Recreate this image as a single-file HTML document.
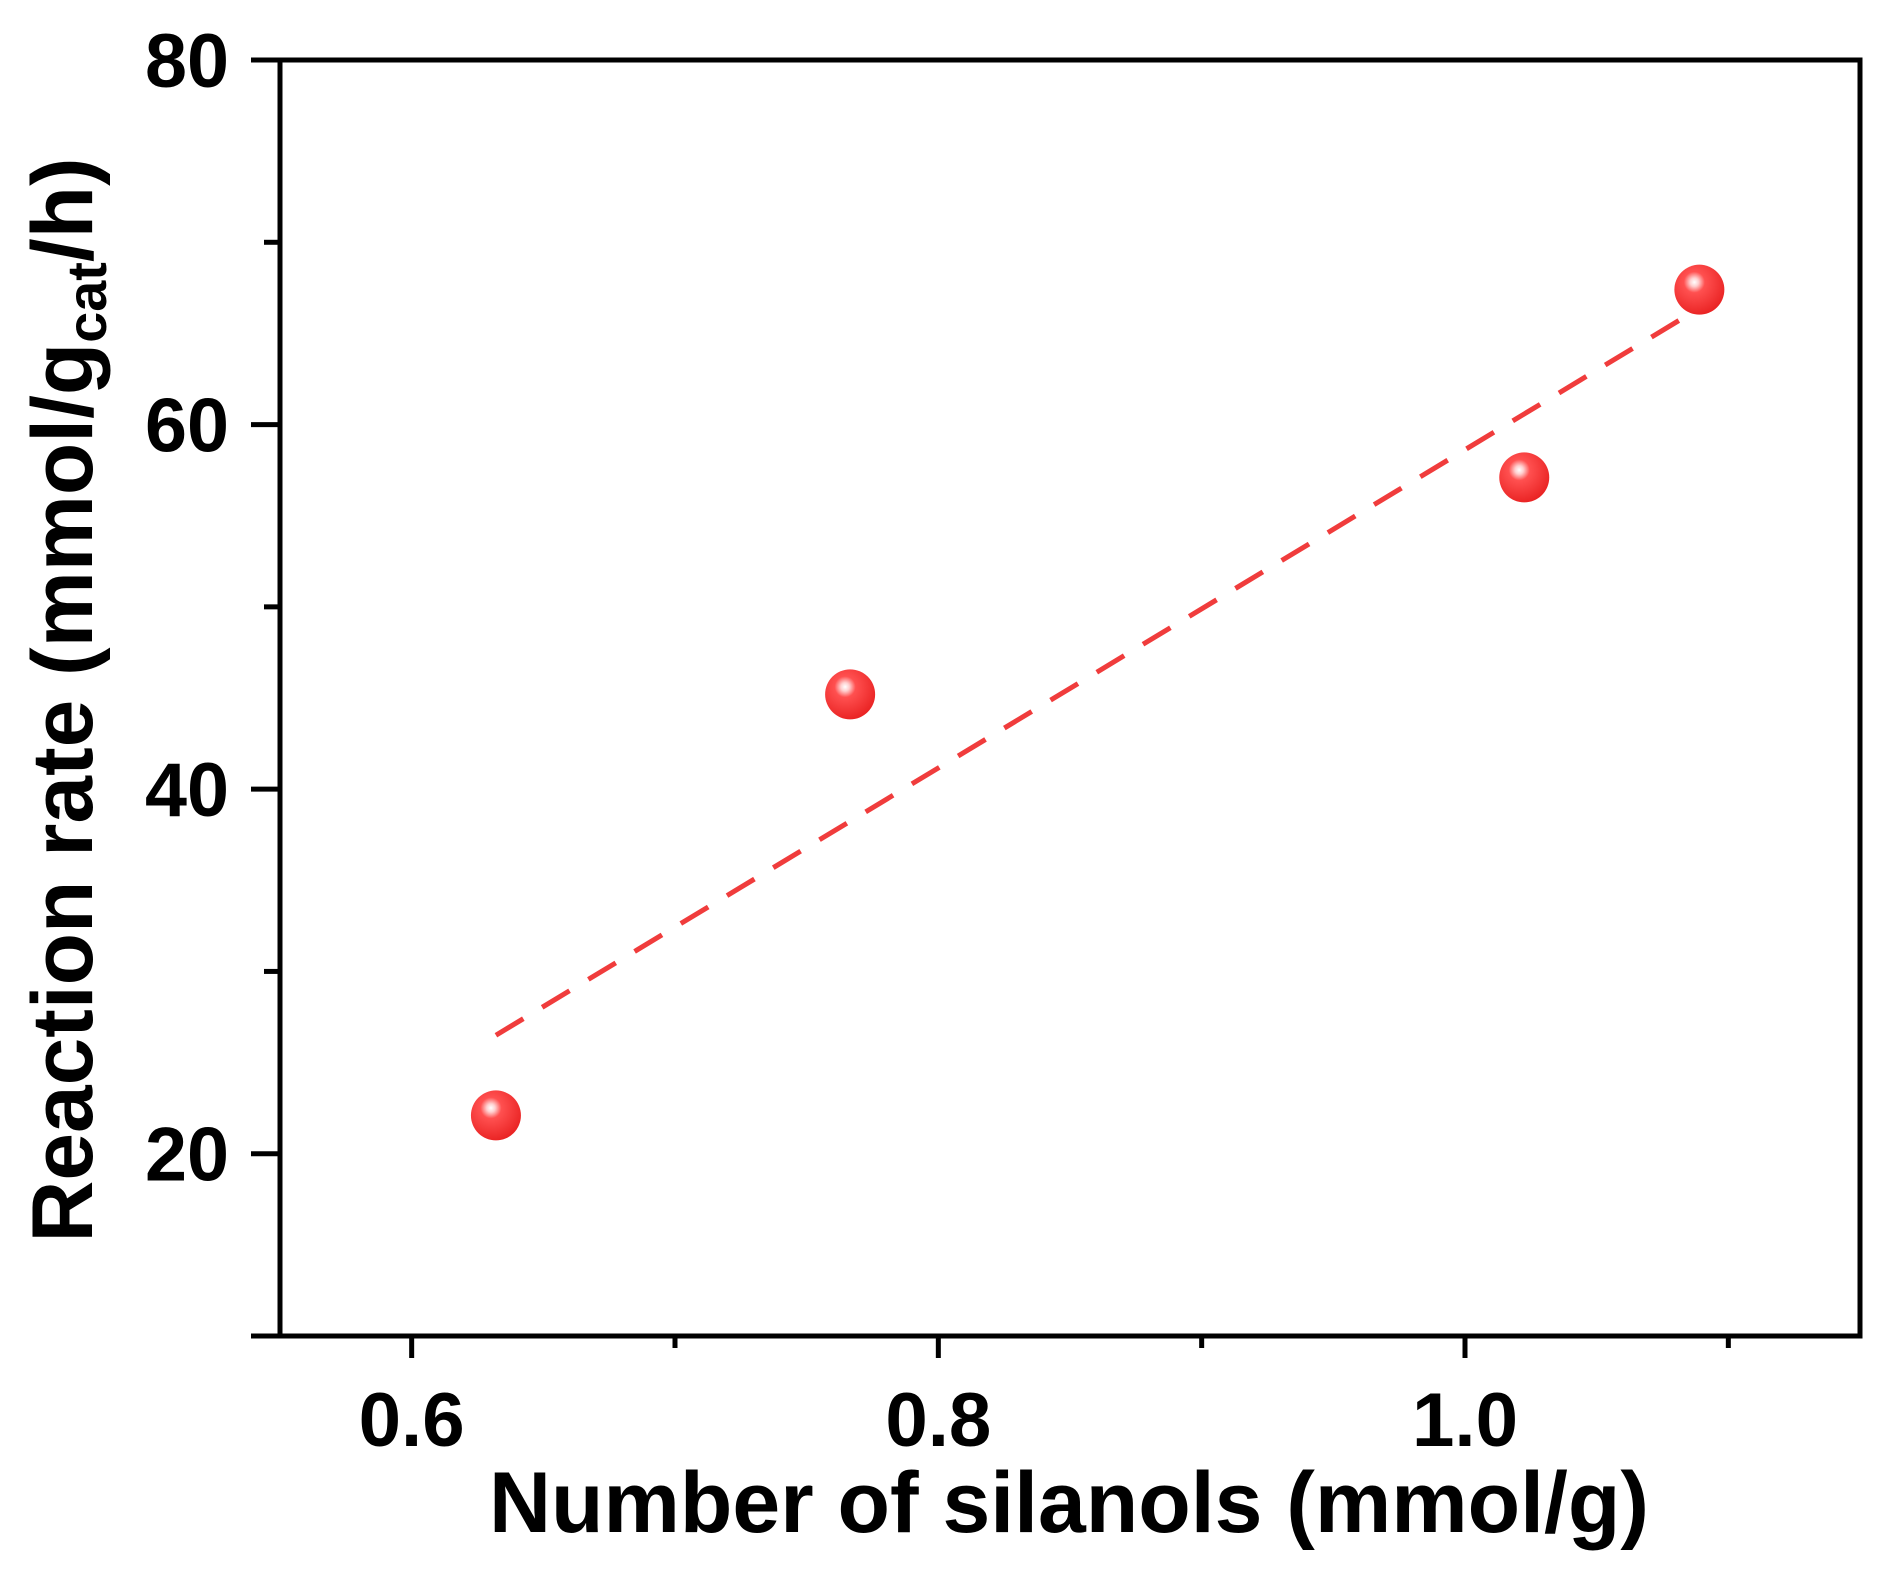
<!DOCTYPE html>
<html><head><meta charset="utf-8"><style>html,body{margin:0;padding:0;background:#fff}svg{display:block}</style></head>
<body>
<svg id="chart" width="1893" height="1588" viewBox="0 0 1893 1588" xmlns="http://www.w3.org/2000/svg" font-family="'Liberation Sans', sans-serif" font-weight="bold">
<defs>
<radialGradient id="ball" cx="0.4" cy="0.35" r="0.7">
<stop offset="0" stop-color="#fff"/><stop offset="0.12" stop-color="#ffd0d0"/><stop offset="0.3" stop-color="#ff5050"/><stop offset="1" stop-color="#e82020"/>
</radialGradient>
</defs>
<g id="layer"></g>
</svg>
<script>
const xs = [0.632, 0.7665, 1.0225, 1.089];
const ys = [22.1, 45.2, 57.1, 67.4];
const fitX = [0.632, 1.088];
const fitY = [26.5, 66.3];
const xTicks = [0.6, 0.8, 1.0];
const xTickLabels = ["0.6", "0.8", "1.0"];
const xMinor = [0.7, 0.9, 1.1];
const yTicks = [20, 40, 60, 80];
const yTickLabels = ["20", "40", "60", "80"];
const yMinor = [30, 50, 70];

const L=280, R=1860, T=60, B=1336;
const X = v => L + (v-0.55)/(1.15-0.55)*(R-L);
const Y = v => B - (v-10)/(80-10)*(B-T);
const NS="http://www.w3.org/2000/svg";
const g=document.getElementById('layer');
function mk(tag, attrs){const e=document.createElementNS(NS,tag);for(const k in attrs)e.setAttribute(k,attrs[k]);g.appendChild(e);return e;}

const frame=mk('rect',{x:L,y:T,width:R-L,height:B-T,fill:'none',stroke:'#000','stroke-width':5});



yTicks.forEach((v,i)=>{
  const t=mk('line',{x1:L-29,x2:L,y1:Y(v),y2:Y(v),stroke:'#000','stroke-width':5});
  
  
  const lb=mk('text',{x:229,y:Y(v)+27,'text-anchor':'end','font-size':76,transform:'',textLength:84,lengthAdjust:'spacingAndGlyphs'});
  lb.textContent=yTickLabels[i];
  
  
});
yMinor.forEach(v=>{
  const t=mk('line',{x1:L-16,x2:L,y1:Y(v),y2:Y(v),stroke:'#000','stroke-width':5});
  
  
});
const yb=mk('line',{x1:L-29,x2:L,y1:B,y2:B,stroke:'#000','stroke-width':5});


xTicks.forEach((v,i)=>{
  const t=mk('line',{x1:X(v),x2:X(v),y1:B,y2:B+22,stroke:'#000','stroke-width':5});
  
  
  const lb=mk('text',{x:X(v),y:1446,'text-anchor':'middle','font-size':76,textLength:106,lengthAdjust:'spacingAndGlyphs'});
  lb.textContent=xTickLabels[i];
  
  
});
xMinor.forEach(v=>{
  const t=mk('line',{x1:X(v),x2:X(v),y1:B,y2:B+12,stroke:'#000','stroke-width':5});
  
  
});

const fit=mk('line',{x1:X(fitX[0]),y1:Y(fitY[0]),x2:X(fitX[1]),y2:Y(fitY[1]),stroke:'#f03c3c','stroke-width':5,'stroke-dasharray':'32 22'});



xs.forEach((v,i)=>{
  const c=mk('circle',{cx:X(v),cy:Y(ys[i]),r:25,fill:'url(#ball)'});
  
  
});

const xt=mk('text',{x:1069,y:1532,'text-anchor':'middle','font-size':86,textLength:1160,lengthAdjust:'spacingAndGlyphs'});
xt.textContent='Number of silanols (mmol/g)';



const yt=mk('text',{transform:'translate(92,700) rotate(-90)','text-anchor':'middle','font-size':86,textLength:1085,lengthAdjust:'spacingAndGlyphs'});


const s1=document.createElementNS(NS,'tspan');s1.textContent='Reaction rate (mmol/g';yt.appendChild(s1);
const s2=document.createElementNS(NS,'tspan');s2.setAttribute('font-size','56');s2.setAttribute('dy','14');s2.textContent='cat';yt.appendChild(s2);
const s3=document.createElementNS(NS,'tspan');s3.setAttribute('dy','-14');s3.textContent='/h)';yt.appendChild(s3);
</script>
</body></html>
